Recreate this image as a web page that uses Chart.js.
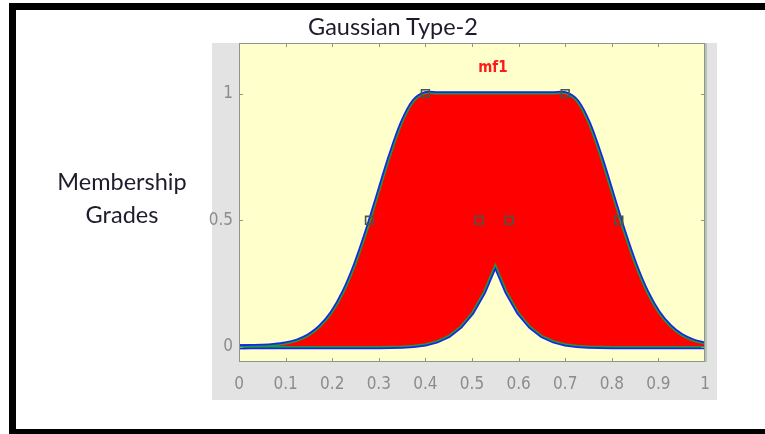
<!DOCTYPE html>
<html>
<head>
<meta charset="utf-8">
<script src="https://cdn.jsdelivr.net/npm/chart.js@4.4.1/dist/chart.umd.min.js"></script>
<style>
  body { margin: 0; background: #fff; }
  #wrap { position: relative; width: 765px; height: 434px; overflow: hidden; background: #fff; }
  #frame { position: absolute; left: 9px; top: 3px; width: 800px; height: 419px;
           border-left: 7px solid #000; border-top: 7px solid #000; border-bottom: 7px solid #000; }
  #chart { position: absolute; left: 0; top: 0; }
  .txt { position: absolute; font-family: Lato, 'Open Sans', sans-serif; color: #1c1c2c; text-align: center; }
  #title { left: 0; width: 786px; top: 12px; font-size: 23.5px; line-height: 28px; }
  #ylab { left: 42px; width: 160px; top: 165px; font-size: 23.5px; line-height: 33px; }
</style>
</head>
<body>
<div id="wrap">
  <div id="frame"></div>
  <canvas id="chart" width="765" height="434"></canvas>
  <div id="title" class="txt">Gaussian Type-2</div>
  <div id="ylab" class="txt">Membership<br>Grades</div>
</div>
<script>
// sample positions along the input axis
const xs = [0, 0.025, 0.05, 0.075, 0.1, 0.125, 0.15, 0.175, 0.2, 0.225, 0.25, 0.275, 0.3, 0.325,
            0.35, 0.375, 0.4, 0.425, 0.45, 0.475, 0.5, 0.525, 0.55, 0.575, 0.6, 0.625, 0.65, 0.675,
            0.7, 0.725, 0.75, 0.775, 0.8, 0.825, 0.85, 0.875, 0.9, 0.925, 0.95, 0.975, 1];

// upper membership function
const upperMF = [0.000, 0.001, 0.002, 0.005, 0.011, 0.023, 0.044, 0.080, 0.135, 0.216, 0.325, 0.458,
                 0.607, 0.755, 0.883, 0.969, 1, 1, 1, 1, 1, 1, 1, 1, 1, 1, 1, 1, 1,
                 0.969, 0.883, 0.755, 0.607, 0.458, 0.325, 0.216, 0.135, 0.080, 0.044, 0.023, 0.011];

// lower membership function
const lowerMF = [0, 0, 0, 0, 0, 0, 0, 0, 0, 0, 0, 0,
                 0.000, 0.001, 0.002, 0.005, 0.011, 0.023, 0.044, 0.080, 0.135, 0.216, 0.325,
                 0.216, 0.135, 0.080, 0.044, 0.023, 0.011, 0.005, 0.002, 0.001,
                 0, 0, 0, 0, 0, 0, 0, 0, 0];

// parameter handles drawn as small squares
const handleX = [0.28, 0.4, 0.515, 0.58, 0.7, 0.815];
const handleY = [0.5, 1, 0.5, 0.5, 1, 0.5];

// tick labels
const xTicks = [0, 0.1, 0.2, 0.3, 0.4, 0.5, 0.6, 0.7, 0.8, 0.9, 1];
const yTicks = [0, 0.5, 1];

// name of the membership function and where it sits
const mfName = 'mf1';
const mfNameX = 0.545;
const mfNameY = 1.1;

const toPoints = (ys) => xs.map((x, i) => ({ x: x, y: ys[i] }));

const tickFont = { family: "'Liberation Sans Narrow', 'DejaVu Sans Condensed', 'Roboto', sans-serif", size: 17 };

// gray panel + yellow axes background, box and inner ticks, mf label
const matlabAxes = {
    id: 'matlabAxes',
    beforeDraw(chart) {
        const ctx = chart.ctx;
        const a = chart.chartArea;
        ctx.save();
        ctx.fillStyle = '#e3e3e3';
        ctx.fillRect(a.left - 27, a.top, a.right - a.left + 39, a.bottom - a.top + 38);
        ctx.fillStyle = '#ffffcc';
        ctx.fillRect(a.left, a.top, a.right - a.left, a.bottom - a.top);
        ctx.restore();
    },
    afterDatasetsDraw(chart) {
        const ctx = chart.ctx;
        const a = chart.chartArea;
        const sx = chart.scales.x;
        const sy = chart.scales.y;
        ctx.save();
        ctx.strokeStyle = '#8e948e';
        ctx.lineWidth = 1;
        ctx.strokeRect(a.left + 0.5, a.top + 0.5, a.right - a.left - 1, a.bottom - a.top - 1);
        ctx.beginPath();
        xTicks.forEach(v => {
            const px = Math.round(sx.getPixelForValue(v)) + 0.5;
            ctx.moveTo(px, a.bottom); ctx.lineTo(px, a.bottom - 4);
            ctx.moveTo(px, a.top); ctx.lineTo(px, a.top + 4);
        });
        yTicks.forEach(v => {
            const py = Math.round(sy.getPixelForValue(v)) + 0.5;
            ctx.moveTo(a.left, py); ctx.lineTo(a.left + 4, py);
            ctx.moveTo(a.right, py); ctx.lineTo(a.right - 4, py);
        });
        ctx.stroke();
        // thicker right edge of the axes box
        ctx.strokeStyle = '#b9c4b4';
        ctx.lineWidth = 2;
        ctx.beginPath();
        ctx.moveTo(a.right + 1, a.top);
        ctx.lineTo(a.right + 1, a.bottom);
        ctx.stroke();

        ctx.fillStyle = '#ff1a1a';
        ctx.font = "bold 15px 'Liberation Sans Narrow', 'DejaVu Sans Condensed', sans-serif";
        ctx.textAlign = 'center';
        ctx.textBaseline = 'middle';
        ctx.fillText(mfName, sx.getPixelForValue(mfNameX), sy.getPixelForValue(mfNameY));
        ctx.restore();
    }
};

const ctx = document.getElementById('chart').getContext('2d');
const chart = new Chart(ctx, {
    type: 'line',
    data: {
        datasets: [
            {
                label: 'upper',
                data: toPoints(upperMF),
                borderColor: '#1f9a3a',
                borderWidth: 1.5,
                pointRadius: 0,
                tension: 0.3,
                fill: false,
                order: 1
            },
            {
                label: 'lower',
                data: toPoints(lowerMF),
                borderColor: '#1f9a3a',
                borderWidth: 1.5,
                pointRadius: 0,
                tension: 0,
                fill: { target: 0, above: '#ff0000', below: '#ff0000' },
                order: 1
            },
            {
                label: 'upper edge',
                data: toPoints(upperMF),
                borderColor: '#1428e6',
                borderWidth: 5,
                pointRadius: 0,
                tension: 0.3,
                fill: false,
                order: 2
            },
            {
                label: 'lower edge',
                data: toPoints(lowerMF),
                borderColor: '#1428e6',
                borderWidth: 5,
                pointRadius: 0,
                tension: 0,
                fill: false,
                order: 2
            },
            {
                label: 'handles',
                data: handleX.map((x, i) => ({ x: x, y: handleY[i] })),
                showLine: false,
                pointStyle: 'rect',
                pointRadius: 5.5,
                pointBorderWidth: 1.6,
                pointBorderColor: '#4a554a',
                pointBackgroundColor: 'rgba(0,0,0,0)',
                order: 0
            }
        ]
    },
    options: {
        responsive: false,
        animation: false,
        layout: { padding: { left: 190, right: 60, top: 43, bottom: 34 } },
        plugins: {
            legend: { display: false },
            tooltip: { enabled: false },
            title: { display: false }
        },
        scales: {
            x: {
                type: 'linear',
                min: 0,
                max: 1,
                grid: { display: false, drawTicks: false },
                border: { display: false },
                afterBuildTicks: (scale) => { scale.ticks = xTicks.map(v => ({ value: v })); },
                afterFit: (scale) => { scale.height = 38; },
                ticks: {
                    color: '#8c8c8c',
                    font: tickFont,
                    padding: 12,
                    maxRotation: 0,
                    autoSkip: false,
                    callback: (v) => String(v)
                }
            },
            y: {
                min: -0.06,
                max: 1.2,
                grid: { display: false, drawTicks: false },
                border: { display: false },
                afterBuildTicks: (scale) => { scale.ticks = yTicks.map(v => ({ value: v })); },
                afterFit: (scale) => { scale.width = 49; },
                ticks: {
                    color: '#8c8c8c',
                    font: tickFont,
                    padding: 6,
                    callback: (v) => String(v)
                }
            }
        }
    },
    plugins: [matlabAxes]
});
</script>
</body>
</html>
